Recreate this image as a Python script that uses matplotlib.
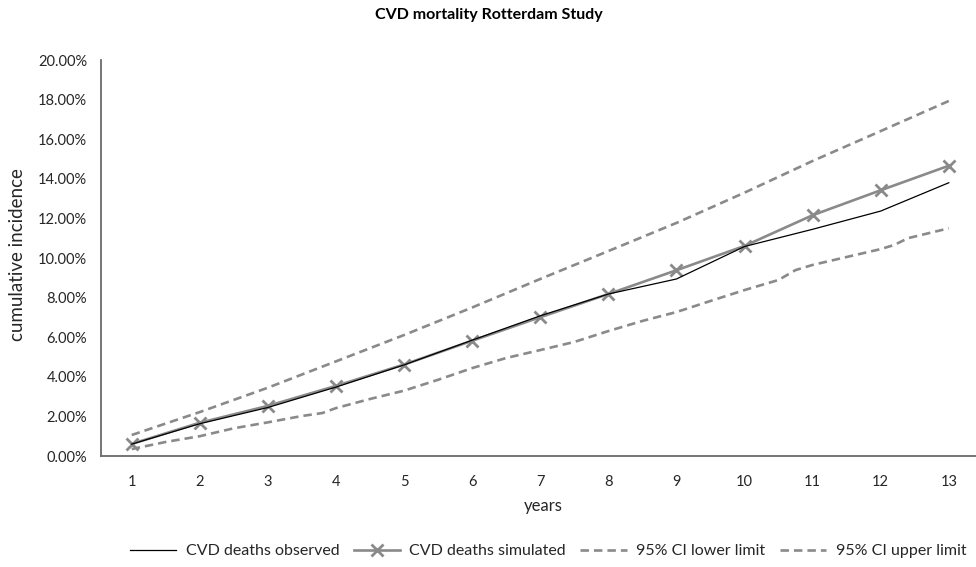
import matplotlib
matplotlib.use("Agg")
import matplotlib.pyplot as plt
from matplotlib.ticker import FuncFormatter, MultipleLocator

plt.rcParams['font.family'] = ['Lato', 'DejaVu Sans']

# ---- data ----
years = [1, 2, 3, 4, 5, 6, 7, 8, 9, 10, 11, 12, 13]
observed = [0.60, 1.63, 2.45, 3.48, 4.60, 5.85, 7.08, 8.18, 8.94, 10.58, 11.45, 12.37, 13.80]
simulated = [0.61, 1.68, 2.53, 3.54, 4.62, 5.82, 7.01, 8.18, 9.38, 10.61, 12.16, 13.42, 14.66]

ci_upper_x = [1, 2, 3, 4, 5, 6, 7, 8, 9, 10, 11, 12, 13]
ci_upper = [1.06, 2.22, 3.45, 4.78, 6.11, 7.50, 8.94, 10.35, 11.77, 13.30, 14.90, 16.41, 17.93]

ci_lower_x = [1, 1.5, 2, 2.5, 3, 3.5, 3.8, 4, 4.5, 5, 5.5, 6, 6.5, 7, 7.5, 8, 8.5,
              9, 9.5, 10, 10.5, 10.75, 11, 11.5, 12, 12.2, 12.4, 13]
ci_lower = [0.35, 0.71, 1.00, 1.40, 1.70, 2.02, 2.17, 2.42, 2.88, 3.30, 3.85, 4.44, 4.95,
            5.35, 5.76, 6.31, 6.82, 7.27, 7.83, 8.38, 8.89, 9.39, 9.65, 10.05, 10.45,
            10.66, 11.00, 11.50]

title = "CVD mortality Rotterdam Study"
x_label = "years"
y_label = "cumulative incidence"
labels = ["CVD deaths observed", "CVD deaths simulated",
          "95% CI lower limit", "95% CI upper limit"]

# ---- figure ----
W, H = 976, 567
fig = plt.figure(figsize=(W / 100, H / 100), dpi=100)
ax = fig.add_axes([101 / W, (H - 456) / H, 875 / W, 396 / H])

gray = "#8a8a8a"
txt = "#262626"
ax.plot(years, observed, color="black", lw=0.9, label=labels[0], zorder=4)
ax.plot(years, simulated, color=gray, lw=1.9, marker="x", ms=9, mew=2.0,
        label=labels[1], zorder=3)
ax.plot(ci_lower_x, ci_lower, color=gray, lw=1.9, dashes=(3.2, 1.9),
        label=labels[2], zorder=2)
ax.plot(ci_upper_x, ci_upper, color=gray, lw=1.9, dashes=(3.2, 1.9),
        label=labels[3], zorder=2)

ax.set_xlim(0.549, 13.4)
ax.set_ylim(0, 20)
ax.set_xticks(years)
ax.set_xticklabels([str(y) for y in years])
ax.yaxis.set_major_locator(MultipleLocator(2))
ax.yaxis.set_major_formatter(FuncFormatter(lambda v, p: f"{v:.2f}%"))
ax.tick_params(length=0, labelsize=10.5, colors=txt)
ax.tick_params(axis="x", pad=14)
ax.tick_params(axis="y", pad=10)

for s in ["top", "right"]:
    ax.spines[s].set_visible(False)
for s in ["left", "bottom"]:
    ax.spines[s].set_color("#6a6a6a")
    ax.spines[s].set_linewidth(1.3)

fig.text(489 / W, 1 - 15 / H, title, ha="center", va="center",
         fontsize=11.5, fontweight="bold", color="black")
fig.text(543 / W, 1 - 506 / H, x_label, ha="center", va="center",
         fontsize=12, color=txt)
fig.text(18 / W, 1 - 255 / H, y_label, ha="center", va="center",
         rotation=90, fontsize=13.5, color=txt)

leg = fig.legend(loc="center", bbox_to_anchor=(548 / W, 1 - 551 / H), ncol=4,
                 frameon=False, fontsize=11.5, handlelength=2.9,
                 columnspacing=0.9, handletextpad=0.6, labelcolor=txt)

fig.savefig("out.png", dpi=100)
